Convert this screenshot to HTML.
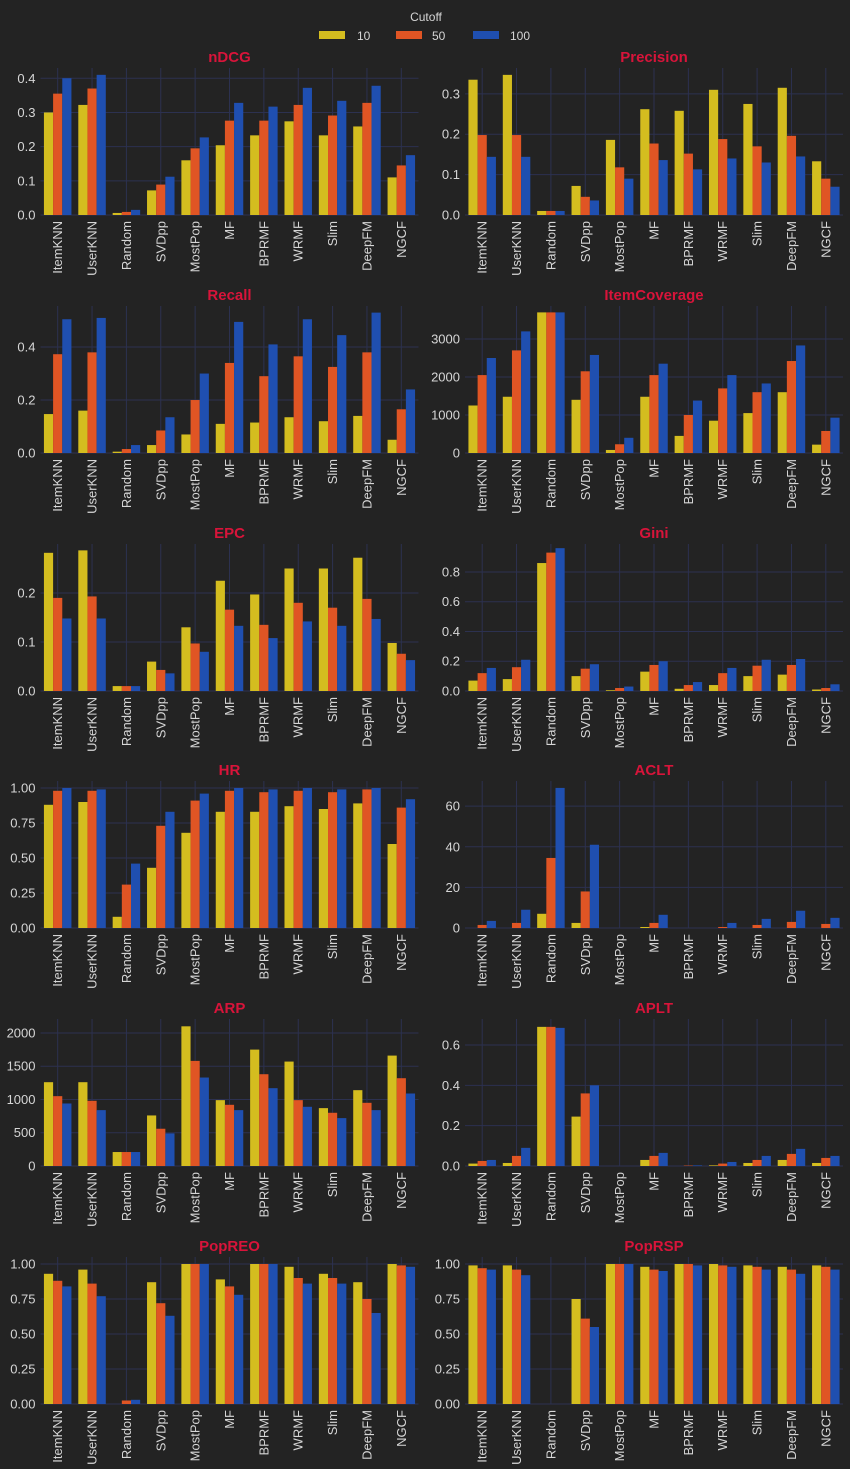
<!DOCTYPE html>
<html><head><meta charset="utf-8"><style>
html,body{margin:0;padding:0;background:#232323;}
svg{display:block;font-family:"Liberation Sans",sans-serif;}
</style></head><body>
<svg id="fig" width="850" height="1469" viewBox="0 0 850 1469">
<rect width="850" height="1469" fill="#232323"/>
<g fill="#d6d6d6" font-size="12">
<text x="426" y="21" text-anchor="middle">Cutoff</text>
<rect x="319" y="31" width="26" height="8" fill="#d4bd1f"/>
<text x="357" y="40">10</text>
<rect x="396" y="31" width="26" height="8" fill="#e05524"/>
<text x="432" y="40">50</text>
<rect x="473" y="31" width="26" height="8" fill="#1f4fb0"/>
<text x="510" y="40">100</text>
</g>
</svg>
<script>
const categories = ["ItemKNN","UserKNN","Random","SVDpp","MostPop","MF","BPRMF","WRMF","Slim","DeepFM","NGCF"];
const cutoffs = ["10","50","100"];
const metricNames = ["nDCG","Precision","Recall","ItemCoverage","EPC","Gini","HR","ACLT","ARP","APLT","PopREO","PopRSP"];
const yMax = [0.43,0.364,0.555,3868,0.3,0.988,1.05,72.4,2210,0.729,1.05,1.05];
const yTicks = [
 [0,0.1,0.2,0.3,0.4],[0,0.1,0.2,0.3],[0,0.2,0.4],[0,1000,2000,3000],
 [0,0.1,0.2],[0,0.2,0.4,0.6,0.8],[0,0.25,0.5,0.75,1],[0,20,40,60],
 [0,500,1000,1500,2000],[0,0.2,0.4,0.6],[0,0.25,0.5,0.75,1],[0,0.25,0.5,0.75,1]];
const yTickLabels = [
 ["0.0","0.1","0.2","0.3","0.4"],["0.0","0.1","0.2","0.3"],["0.0","0.2","0.4"],["0","1000","2000","3000"],
 ["0.0","0.1","0.2"],["0.0","0.2","0.4","0.6","0.8"],["0.00","0.25","0.50","0.75","1.00"],["0","20","40","60"],
 ["0","500","1000","1500","2000"],["0.0","0.2","0.4","0.6"],["0.00","0.25","0.50","0.75","1.00"],["0.00","0.25","0.50","0.75","1.00"]];
// values per metric: [cutoff10[], cutoff50[], cutoff100[]] ordered as categories
const nDCG = [[.30,.322,.006,.072,.16,.204,.233,.274,.233,.259,.11],[.355,.37,.009,.089,.195,.276,.276,.322,.291,.328,.145],[.40,.41,.015,.112,.227,.328,.317,.372,.334,.378,.175]];
const precision = [[.335,.347,.01,.072,.186,.262,.258,.31,.275,.315,.133],[.198,.198,.01,.045,.118,.177,.152,.188,.17,.196,.09],[.144,.144,.01,.036,.09,.136,.113,.14,.13,.145,.07]];
const recall = [[.147,.16,.005,.03,.07,.11,.115,.135,.12,.14,.05],[.373,.38,.015,.085,.2,.34,.29,.365,.325,.38,.165],[.505,.51,.03,.135,.3,.495,.41,.505,.445,.53,.24]];
const itemCoverage = [[1250,1480,3700,1400,80,1480,450,850,1050,1600,220],[2050,2700,3700,2150,230,2050,1000,1700,1600,2420,580],[2500,3200,3700,2580,400,2350,1380,2050,1830,2830,930]];
const epc = [[.282,.287,.01,.06,.13,.225,.197,.25,.25,.272,.098],[.19,.193,.01,.043,.097,.166,.135,.18,.17,.188,.076],[.148,.148,.01,.036,.08,.133,.108,.142,.133,.147,.063]];
const gini = [[.07,.08,.86,.1,.005,.13,.015,.04,.1,.11,.01],[.12,.16,.93,.15,.02,.175,.04,.12,.17,.175,.02],[.155,.21,.96,.18,.03,.2,.06,.155,.21,.215,.045]];
const hr = [[.88,.9,.08,.43,.68,.83,.83,.87,.85,.89,.6],[.98,.98,.31,.73,.91,.98,.97,.98,.97,.99,.86],[1,.99,.46,.83,.96,1,.99,1,.99,1,.92]];
const aclt = [[0,0,7,2.5,0,.5,0,0,0,0,0],[1.5,2.5,34.5,18,0,2.5,0,.5,1.5,3,2],[3.5,9,69,41,0,6.5,0,2.5,4.5,8.5,5]];
const arp = [[1260,1260,210,760,2100,990,1750,1570,870,1140,1660],[1050,980,210,560,1580,920,1380,990,800,950,1320],[940,840,210,490,1330,840,1170,890,720,840,1090]];
const aplt = [[.012,.015,.69,.245,0,.03,0,.003,.015,.03,.015],[.025,.05,.69,.36,0,.05,.002,.012,.03,.06,.04],[.03,.09,.685,.4,0,.065,.003,.02,.05,.085,.05]];
const popREO = [[.93,.96,0,.87,1,.89,1,.98,.93,.87,1],[.88,.86,.025,.72,1,.84,1,.9,.9,.75,.99],[.84,.77,.03,.63,1,.78,1,.86,.86,.65,.98]];
const popRSP = [[.99,.99,0,.75,1,.98,1,1,.99,.98,.99],[.97,.96,0,.61,1,.96,1,.99,.98,.96,.98],[.96,.92,0,.55,1,.95,.99,.98,.96,.93,.96]];
const allValues = [nDCG,precision,recall,itemCoverage,epc,gini,hr,aclt,arp,aplt,popREO,popRSP];

const NS = "http://www.w3.org/2000/svg";
const svg = document.getElementById('fig');
const colors = ["#d4bd1f","#e05524","#1f4fb0"];
const rowBottoms = [215,453,691,928,1166,1404];
const colLeft = [40.5,465];
const plotW = 378, plotH = 147;
function mk(tag, attrs, parent){const e=document.createElementNS(NS,tag);for(const k in attrs)e.setAttribute(k,attrs[k]);parent.appendChild(e);return e;}
function slug(s){return s.toLowerCase().replace(/[^a-z0-9]+/g,'-');}

metricNames.forEach((name, mi) => {
  const row = Math.floor(mi/2), col = mi%2;
  const x0 = colLeft[col], bottom = rowBottoms[row], top = bottom - plotH;
  const g = mk('g', {}, svg);
  
  
  const band = plotW / categories.length;
  const xC = i => x0 + band*(i+0.5);
  const y = v => bottom - v / yMax[mi] * plotH;
  // grid
  yTicks[mi].forEach((t, ti) => {
    const gl = mk('line', {x1:x0, x2:x0+plotW, y1:y(t), y2:y(t), stroke:'#2c3150', 'stroke-width':1}, g);
    
    
    const tl = mk('text', {x:x0-5, y:y(t)+4.5, 'text-anchor':'end', 'font-size':13, fill:'#d6d6d6'}, g);
    tl.textContent = yTickLabels[mi][ti];
    
    
  });
  categories.forEach((c, ci) => {
    const vl = mk('line', {x1:xC(ci), x2:xC(ci), y1:top, y2:bottom, stroke:'#2c3150', 'stroke-width':1}, g);
    
    
  });
  // bars
  const bw = band*0.8/3;
  allValues[mi].forEach((series, si) => {
    series.forEach((v, ci) => {
      const bx = xC(ci) - band*0.4 + si*bw;
      const r = mk('rect', {x:bx, y:y(v), width:bw, height:Math.max(0, bottom - y(v)), fill:colors[si]}, g);
      
      
    });
  });
  // x labels
  categories.forEach((c, ci) => {
    const t = mk('text', {transform:`translate(${xC(ci)+4.5},${bottom+6}) rotate(-90)`, 'text-anchor':'end', 'font-size':13, fill:'#d6d6d6'}, g);
    t.textContent = c;
    
    
  });
  const title = mk('text', {x:x0+plotW/2, y:top-6, 'text-anchor':'middle', 'font-size':15, 'font-weight':'bold', fill:'#d8143a'}, g);
  title.textContent = name;
  
  
});
</script>
</body></html>
